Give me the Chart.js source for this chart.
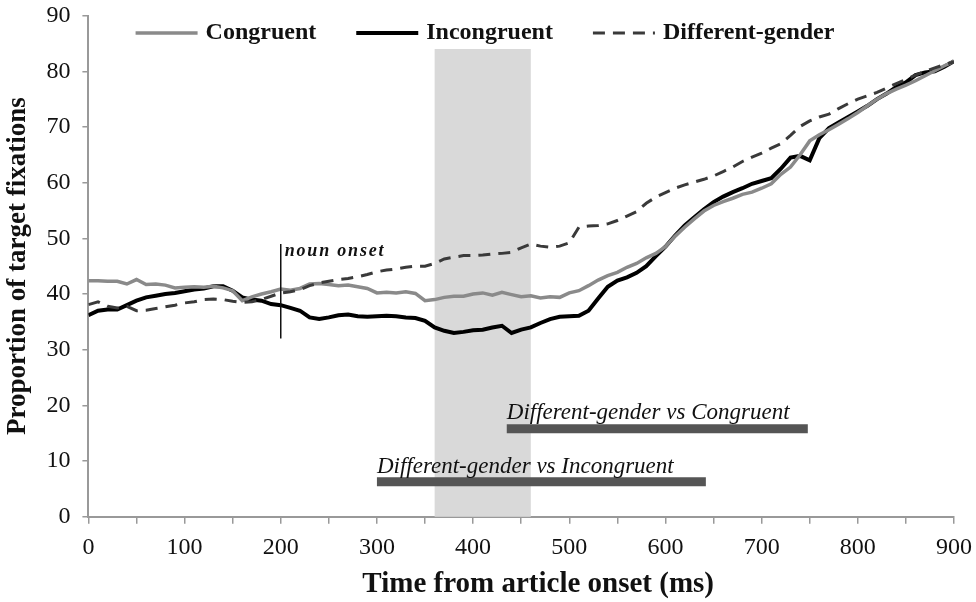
<!DOCTYPE html>
<html>
<head>
<meta charset="utf-8">
<script src="https://cdn.jsdelivr.net/npm/chart.js@4/dist/chart.umd.min.js"></script>
<style>
html,body{margin:0;padding:0;background:#fff;}
#wrap{width:976px;height:602px;position:relative;}
</style>
</head>
<body>
<div id="wrap"><canvas id="c" width="976" height="602"></canvas></div>
<script>
// ---------- data ----------
const timeMs = [0,10,20,30,40,50,60,70,80,90,100,110,120,130,140,150,160,170,180,190,200,210,220,230,240,250,260,270,280,290,300,310,320,330,340,350,360,370,380,390,400,410,420,430,440,450,460,470,480,490,500,510,520,530,540,550,560,570,580,590,600,610,620,630,640,650,660,670,680,690,700,710,720,730,740,750,760,770,780,790,800,810,820,830,840,850,860,870,880,890,900];

const congruent = [42.4,42.4,42.3,42.3,41.8,42.6,41.7,41.8,41.6,41.1,41.2,41.3,41.2,41.4,41.1,40.6,38.8,39.5,40.0,40.4,40.9,40.7,41.0,41.8,41.9,41.7,41.5,41.6,41.3,41.0,40.2,40.3,40.2,40.4,40.1,38.8,39.0,39.4,39.6,39.6,40.0,40.2,39.8,40.3,39.9,39.5,39.7,39.3,39.5,39.4,40.2,40.6,41.5,42.5,43.3,43.9,44.8,45.5,46.5,47.3,48.5,50.4,52.0,53.5,54.9,55.9,56.6,57.2,57.9,58.3,59.0,59.8,61.5,62.8,65.0,67.5,68.6,69.5,70.5,71.5,72.6,73.8,75.0,76.0,76.8,77.5,78.3,79.2,80.1,81.0,81.8];

const incongruent = [36.2,37.0,37.2,37.2,38.0,38.8,39.4,39.7,40.0,40.2,40.5,40.8,41.0,41.4,41.4,40.6,39.4,39.0,38.8,38.2,38.0,37.5,37.0,35.8,35.5,35.8,36.2,36.3,36.0,35.9,36.0,36.1,36.0,35.8,35.7,35.2,34.0,33.4,33.0,33.2,33.5,33.6,34.0,34.3,33.0,33.6,34.0,34.8,35.5,35.9,36.0,36.1,37.0,39.2,41.3,42.4,43.0,43.8,45.0,46.8,48.5,50.5,52.3,53.8,55.2,56.5,57.5,58.3,59.0,59.8,60.3,60.8,62.5,64.5,64.8,64.0,68.0,69.8,70.8,71.8,72.8,73.8,75.0,76.0,77.2,78.0,79.3,79.8,80.0,80.8,81.8];

const differentGender = [38.1,38.6,37.8,37.5,37.8,37.0,37.1,37.4,37.7,38.0,38.4,38.6,39.0,39.1,39.0,38.7,38.5,38.6,39.0,39.6,40.2,40.4,40.8,41.5,42.0,42.3,42.6,42.8,43.1,43.5,44.0,44.3,44.5,44.8,45.0,45.0,45.5,46.3,46.6,46.9,46.9,47.0,47.2,47.3,47.5,48.3,49.0,48.6,48.4,48.6,49.2,52.0,52.2,52.3,52.6,53.2,54.0,54.8,56.3,57.4,58.2,59.0,59.6,60.1,60.6,61.2,62.0,62.8,63.8,64.6,65.3,66.2,67.0,68.5,70.1,71.1,71.8,72.3,73.3,74.2,75.0,75.6,76.2,77.0,77.8,78.5,79.3,80.0,80.6,81.2,81.7];

const seriesNames = ["Congruent","Incongruent","Different-gender"];
const xTitle = "Time from article onset (ms)";
const yTitle = "Proportion of target fixations";

// shaded window (ms) and its top (%)
const shadeWindow = [360, 460];
const shadeTop = 84;

// significance bars: [start ms, end ms, level %]
const sigCongruent = [435, 748, 15.8];
const sigIncongruent = [300, 642, 6.3];
const sigLabels = ["Different-gender vs Congruent", "Different-gender vs Incongruent"];
const sigLabelLevels = [18.6, 9.0];

// noun onset marker: [ms, from %, to %]
const nounOnset = [200, 32, 49];
const nounLabel = "noun onset";
const nounLabelLevel = 47.6;

const xTicksMin = 0, xTicksMax = 900, xStep = 50;
const yTicksMin = 0, yTicksMax = 90, yStep = 10;

// ---------- build ----------
const pts = arr => arr.map((v,i)=>({x: timeMs[i], y: v}));
const SERIF = "'Liberation Serif','Times New Roman',serif";

const shadePlugin = {
  id:'shade',
  beforeDatasetsDraw(chart){
    const {ctx, scales:{x,y}} = chart;
    ctx.save();
    ctx.fillStyle = '#d9d9d9';
    const x0 = x.getPixelForValue(shadeWindow[0]), x1 = x.getPixelForValue(shadeWindow[1]);
    const y0 = y.getPixelForValue(shadeTop), y1 = y.getPixelForValue(0);
    ctx.fillRect(x0, y0, x1-x0, y1-y0);
    ctx.restore();
  }
};

const textPlugin = {
  id:'texts',
  afterDatasetsDraw(chart){
    const {ctx, scales:{x,y}} = chart;
    ctx.save();
    ctx.strokeStyle = '#111';
    ctx.lineWidth = 1.5;
    const nx = x.getPixelForValue(nounOnset[0]);
    ctx.beginPath();
    ctx.moveTo(nx, y.getPixelForValue(nounOnset[1]));
    ctx.lineTo(nx, y.getPixelForValue(nounOnset[2]));
    ctx.stroke();
    ctx.fillStyle = '#111';
    ctx.textBaseline = 'middle';
    ctx.textAlign = 'left';
    ctx.font = "italic bold 18px " + SERIF;
    try { ctx.letterSpacing = '1.8px'; } catch(e){}
    ctx.fillText(nounLabel, nx + 4, y.getPixelForValue(nounLabelLevel));
    try { ctx.letterSpacing = '0px'; } catch(e){}
    ctx.font = "italic 23px " + SERIF;
    ctx.fillStyle = '#111';
    ctx.fillText(sigLabels[0], x.getPixelForValue(sigCongruent[0]), y.getPixelForValue(sigLabelLevels[0]));
    ctx.fillText(sigLabels[1], x.getPixelForValue(sigIncongruent[0]), y.getPixelForValue(sigLabelLevels[1]));
    ctx.restore();
  },
  afterDraw(chart){
    // x-axis title, set slightly right of the plot centre as in the original
    const {ctx, scales:{x}} = chart;
    ctx.save();
    ctx.font = "bold 29px " + SERIF;
    ctx.fillStyle = '#111';
    ctx.textAlign = 'center';
    ctx.textBaseline = 'middle';
    ctx.fillText(xTitle, (x.left + x.right)/2 + 17, x.bottom - 5 - 12.6);
    ctx.restore();
  }
};

const legendPlugin = {
  id:'inLegend',
  afterDraw(chart){
    const {ctx} = chart;
    const sampleLen = 62, sampleGap = 8, itemGap = 40;
    ctx.save();
    ctx.font = "bold 24px " + SERIF;
    const items = seriesNames.map(n => chart.data.datasets.find(d => d.label === n));
    const widths = items.map(d=>sampleLen + sampleGap + ctx.measureText(d.label).width);
    const total = widths.reduce((a,b)=>a+b,0) + itemGap*(items.length-1);
    let xx = chart.width/2 - total/2 - 3;
    const yy = 33;
    items.forEach((d,i)=>{
      ctx.strokeStyle = d.borderColor;
      ctx.lineWidth = d.borderWidth;
      ctx.setLineDash(d.borderDash || []);
      ctx.beginPath();
      ctx.moveTo(xx, yy); ctx.lineTo(xx+sampleLen, yy);
      ctx.stroke();
      ctx.setLineDash([]);
      ctx.fillStyle = '#111';
      ctx.textBaseline = 'middle';
      ctx.textAlign = 'left';
      ctx.fillText(d.label, xx + sampleLen + sampleGap, yy);
      xx += widths[i] + itemGap;
    });
    ctx.restore();
  }
};

new Chart(document.getElementById('c'), {
  type:'line',
  data:{
    datasets:[
      {label:'sig1', data:[{x:sigCongruent[0],y:sigCongruent[2]},{x:sigCongruent[1],y:sigCongruent[2]}], borderColor:'#555', borderWidth:9, borderCapStyle:'butt', pointRadius:0},
      {label:'sig2', data:[{x:sigIncongruent[0],y:sigIncongruent[2]},{x:sigIncongruent[1],y:sigIncongruent[2]}], borderColor:'#555', borderWidth:9, borderCapStyle:'butt', pointRadius:0},
      {label:seriesNames[2], data:pts(differentGender), borderColor:'#3a3a3a', borderWidth:3, borderDash:[12,8], pointRadius:0, tension:0},
      {label:seriesNames[0], data:pts(congruent), borderColor:'#8a8a8a', borderWidth:3.5, pointRadius:0, tension:0},
      {label:seriesNames[1], data:pts(incongruent), borderColor:'#000', borderWidth:4, pointRadius:0, tension:0}
    ]
  },
  options:{
    responsive:false,
    animation:false,
    layout:{padding:{top:0, right:20, left:2, bottom:0}},
    plugins:{legend:{display:false}, tooltip:{enabled:false}},
    scales:{
      x:{
        type:'linear', min:xTicksMin, max:xTicksMax,
        ticks:{stepSize:xStep, autoSkip:false, maxRotation:0, padding:4, color:'#111',
          font:{family:SERIF, size:24, lineHeight:1.667},
          callback:v=> (v % 100 === 0 ? String(v) : '')},
        grid:{drawOnChartArea:false, drawTicks:true, tickLength:7, color:'#999', lineWidth:1.5},
        border:{color:'#999', width:2},
        title:{display:true, text:xTitle, color:'rgba(0,0,0,0)', font:{family:SERIF, size:29, weight:'bold', lineHeight:0.87}, padding:{top:0, bottom:5}}
      },
      y:{
        min:yTicksMin, max:yTicksMax,
        ticks:{stepSize:yStep, padding:12, color:'#111', font:{family:SERIF, size:24, lineHeight:0.3}},
        grid:{drawOnChartArea:false, drawTicks:true, tickLength:6, color:'#999', lineWidth:1.5},
        border:{color:'#999', width:2},
        title:{display:true, text:yTitle, color:'#111', font:{family:SERIF, size:27, weight:'bold'}, padding:{top:0, bottom:0}}
      }
    }
  },
  plugins:[shadePlugin, textPlugin, legendPlugin]
});
</script>
</body>
</html>
